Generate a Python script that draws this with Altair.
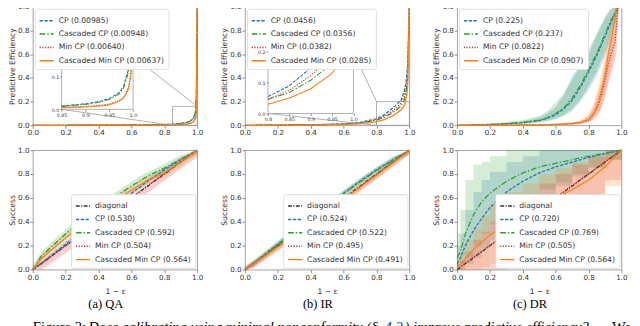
import altair as alt
import pandas as pd

# ---------------- data ----------------
KEYS4 = ["cp", "ccp", "min", "cmin"]
KEYS5 = ["diag", "cp", "ccp", "min", "cmin"]

QA_TOP_LABELS = {"cp": "CP (0.00985)", "ccp": "Cascaded CP (0.00948)",
                 "min": "Min CP (0.00640)", "cmin": "Cascaded Min CP (0.00637)"}
IR_TOP_LABELS = {"cp": "CP (0.0456)", "ccp": "Cascaded CP (0.0356)",
                 "min": "Min CP (0.0382)", "cmin": "Cascaded Min CP (0.0285)"}
DR_TOP_LABELS = {"cp": "CP (0.225)", "ccp": "Cascaded CP (0.237)",
                 "min": "Min CP (0.0822)", "cmin": "Cascaded Min CP (0.0907)"}
QA_BOT_LABELS = {"diag": "diagonal", "cp": "CP (0.530)", "ccp": "Cascaded CP (0.592)",
                 "min": "Min CP (0.504)", "cmin": "Cascaded Min CP (0.564)"}
IR_BOT_LABELS = {"diag": "diagonal", "cp": "CP (0.524)", "ccp": "Cascaded CP (0.522)",
                 "min": "Min CP (0.495)", "cmin": "Cascaded Min CP (0.491)"}
DR_BOT_LABELS = {"diag": "diagonal", "cp": "CP (0.720)", "ccp": "Cascaded CP (0.769)",
                 "min": "Min CP (0.505)", "cmin": "Cascaded Min CP (0.564)"}

# (a) QA, predictive efficiency
QA_TOP_X = [0.0, 0.3, 0.6, 0.8, 0.85, 0.9, 0.93, 0.95, 0.97, 0.98, 0.99, 0.995, 1.0]
QA_TOP_CP = [0.0, 0.001, 0.003, 0.006, 0.010, 0.017, 0.024, 0.033, 0.050, 0.070, 0.120, 0.25, 1.0]
QA_TOP_CCP = [0.0, 0.001, 0.003, 0.005, 0.009, 0.015, 0.022, 0.030, 0.046, 0.065, 0.112, 0.24, 1.0]
QA_TOP_MIN = [0.0, 0.001, 0.002, 0.004, 0.006, 0.009, 0.012, 0.016, 0.026, 0.037, 0.065, 0.11, 1.0]
QA_TOP_CMIN = [0.0, 0.001, 0.002, 0.003, 0.005, 0.007, 0.010, 0.013, 0.024, 0.034, 0.060, 0.10, 1.0]

# (b) IR, predictive efficiency
IR_TOP_X = [0.0, 0.2, 0.4, 0.6, 0.7, 0.8, 0.85, 0.9, 0.93, 0.95, 0.97, 0.98, 0.99, 1.0]
IR_TOP_CP = [0.0, 0.002, 0.005, 0.012, 0.025, 0.055, 0.090, 0.148, 0.185, 0.215, 0.29, 0.37, 0.52, 1.0]
IR_TOP_CCP = [0.0, 0.002, 0.004, 0.009, 0.018, 0.046, 0.068, 0.108, 0.140, 0.165, 0.215, 0.27, 0.40, 1.0]
IR_TOP_MIN = [0.0, 0.002, 0.004, 0.010, 0.020, 0.046, 0.075, 0.123, 0.160, 0.190, 0.245, 0.31, 0.45, 1.0]
IR_TOP_CMIN = [0.0, 0.001, 0.003, 0.007, 0.013, 0.030, 0.050, 0.080, 0.110, 0.130, 0.170, 0.22, 0.33, 1.0]

# (c) DR, predictive efficiency
DR_TOP_CP_X = [0.0, 0.1, 0.2, 0.3, 0.4, 0.5, 0.55, 0.6, 0.65, 0.7, 0.75, 0.8, 0.85, 0.9, 0.93, 0.96, 0.98]
DR_TOP_CP = [0.0, 0.003, 0.007, 0.012, 0.022, 0.04, 0.06, 0.09, 0.14, 0.21, 0.32, 0.45, 0.59, 0.75, 0.85, 0.94, 1.0]
DR_TOP_CP_LO = [0.0, 0.001, 0.003, 0.006, 0.012, 0.022, 0.035, 0.05, 0.08, 0.12, 0.2, 0.3, 0.42, 0.58, 0.7, 0.85, 0.97]
DR_TOP_CP_HI = [0.0, 0.006, 0.012, 0.02, 0.035, 0.065, 0.1, 0.15, 0.26, 0.42, 0.5, 0.6, 0.76, 0.9, 0.97, 1.0, 1.0]
DR_TOP_CCP = [0.0, 0.004, 0.008, 0.014, 0.025, 0.045, 0.065, 0.10, 0.15, 0.23, 0.34, 0.47, 0.61, 0.77, 0.87, 0.95, 1.0]
DR_TOP_CCP_LO = [0.0, 0.002, 0.004, 0.008, 0.015, 0.028, 0.04, 0.06, 0.09, 0.14, 0.22, 0.33, 0.46, 0.62, 0.74, 0.88, 0.98]
DR_TOP_CCP_HI = [0.0, 0.008, 0.016, 0.028, 0.045, 0.08, 0.12, 0.19, 0.27, 0.38, 0.5, 0.64, 0.78, 0.92, 0.98, 1.0, 1.0]
DR_TOP_MIN_X = [0.0, 0.3, 0.5, 0.6, 0.7, 0.75, 0.8, 0.83, 0.86, 0.88, 0.9, 0.92, 0.94, 0.95, 0.96, 0.97, 0.98]
DR_TOP_MIN = [0.0, 0.002, 0.004, 0.007, 0.013, 0.022, 0.045, 0.09, 0.17, 0.26, 0.38, 0.52, 0.62, 0.66, 0.70, 0.85, 1.0]
DR_TOP_MIN_LO = [0.0, 0.001, 0.002, 0.004, 0.008, 0.012, 0.025, 0.05, 0.1, 0.15, 0.24, 0.35, 0.45, 0.5, 0.55, 0.62, 0.9]
DR_TOP_MIN_HI = [0.0, 0.004, 0.008, 0.012, 0.022, 0.035, 0.08, 0.15, 0.28, 0.38, 0.52, 0.65, 0.75, 0.8, 0.88, 1.0, 1.0]
DR_TOP_CMIN = [0.0, 0.002, 0.005, 0.008, 0.015, 0.025, 0.05, 0.10, 0.20, 0.30, 0.42, 0.60, 0.74, 0.82, 0.90, 1.0, 1.0]
DR_TOP_CMIN_LO = [0.0, 0.001, 0.002, 0.004, 0.008, 0.012, 0.025, 0.05, 0.1, 0.16, 0.25, 0.38, 0.5, 0.58, 0.68, 0.8, 0.95]
DR_TOP_CMIN_HI = [0.0, 0.004, 0.009, 0.014, 0.025, 0.04, 0.09, 0.18, 0.33, 0.45, 0.6, 0.76, 0.88, 0.95, 1.0, 1.0, 1.0]

# success curves
BOT_X = [0.0, 0.05, 0.1, 0.2, 0.3, 0.4, 0.5, 0.6, 0.7, 0.8, 0.9, 1.0]
DIAG_X = [0.0, 1.0]
DIAG_Y = [0.0, 1.0]
QA_BOT_CP = [0.0, 0.05, 0.105, 0.215, 0.325, 0.43, 0.535, 0.64, 0.74, 0.835, 0.92, 1.0]
QA_BOT_CCP = [0.0, 0.11, 0.175, 0.30, 0.41, 0.51, 0.61, 0.70, 0.785, 0.85, 0.925, 1.0]
QA_BOT_MIN = [0.0, 0.05, 0.10, 0.20, 0.30, 0.40, 0.505, 0.605, 0.705, 0.805, 0.905, 1.0]
QA_BOT_CMIN = [0.0, 0.09, 0.15, 0.265, 0.375, 0.475, 0.575, 0.665, 0.75, 0.81, 0.90, 1.0]
QA_BOT_BAND = {"cp": 0.02, "ccp": 0.035, "min": 0.04, "cmin": 0.035}

IR_BOT_CP = [0.0, 0.05, 0.105, 0.215, 0.32, 0.43, 0.535, 0.64, 0.74, 0.835, 0.92, 1.0]
IR_BOT_CCP = [0.0, 0.05, 0.10, 0.21, 0.32, 0.43, 0.53, 0.635, 0.735, 0.83, 0.915, 1.0]
IR_BOT_MIN = [0.0, 0.048, 0.097, 0.195, 0.293, 0.393, 0.493, 0.595, 0.695, 0.795, 0.897, 1.0]
IR_BOT_CMIN = [0.0, 0.047, 0.095, 0.19, 0.288, 0.387, 0.487, 0.588, 0.69, 0.79, 0.893, 1.0]
IR_BOT_BAND = {"cp": 0.025, "ccp": 0.025, "min": 0.025, "cmin": 0.03}

DR_BOT_X = [0.0, 0.02, 0.05, 0.1, 0.15, 0.2, 0.3, 0.4, 0.5, 0.6, 0.7, 0.8, 0.9, 1.0]
DR_BOT_CP = [0.05, 0.10, 0.20, 0.33, 0.43, 0.52, 0.65, 0.74, 0.81, 0.86, 0.90, 0.94, 0.97, 1.0]
DR_BOT_CP_LO = [0.0, 0.0, 0.05, 0.1, 0.18, 0.25, 0.4, 0.5, 0.6, 0.7, 0.78, 0.85, 0.92, 1.0]
DR_BOT_CP_HI = [0.2, 0.3, 0.5, 0.65, 0.75, 0.82, 0.9, 0.95, 1.0, 1.0, 1.0, 1.0, 1.0, 1.0]
DR_BOT_CCP = [0.10, 0.15, 0.30, 0.46, 0.57, 0.64, 0.74, 0.81, 0.86, 0.89, 0.92, 0.95, 0.975, 1.0]
DR_BOT_CCP_LO = [0.0, 0.05, 0.1, 0.2, 0.3, 0.38, 0.5, 0.6, 0.67, 0.73, 0.8, 0.86, 0.92, 1.0]
DR_BOT_CCP_HI = [0.3, 0.5, 0.75, 0.88, 0.9, 0.95, 1.0, 1.0, 1.0, 1.0, 1.0, 1.0, 1.0, 1.0]
DR_BOT_MIN = [0.0, 0.02, 0.055, 0.105, 0.155, 0.205, 0.305, 0.405, 0.505, 0.605, 0.705, 0.805, 0.905, 1.0]
DR_BOT_MIN_LO = [0.0, 0.0, 0.0, 0.0, 0.0, 0.0, 0.1, 0.2, 0.3, 0.4, 0.5, 0.62, 0.75, 1.0]
DR_BOT_MIN_HI = [0.05, 0.08, 0.15, 0.25, 0.32, 0.4, 0.5, 0.62, 0.72, 0.8, 0.88, 0.95, 1.0, 1.0]
DR_BOT_CMIN = [0.02, 0.04, 0.09, 0.17, 0.23, 0.29, 0.38, 0.45, 0.53, 0.60, 0.67, 0.75, 0.86, 1.0]
DR_BOT_CMIN_LO = [0.0, 0.0, 0.0, 0.0, 0.02, 0.05, 0.12, 0.2, 0.28, 0.35, 0.45, 0.55, 0.7, 1.0]
DR_BOT_CMIN_HI = [0.1, 0.15, 0.25, 0.35, 0.45, 0.55, 0.65, 0.72, 0.8, 0.85, 0.9, 0.95, 1.0, 1.0]

TICKS = [0.0, 0.2, 0.4, 0.6, 0.8, 1.0]
CAPTIONS = ["(a) QA", "(b) IR", "(c) DR"]
FIG_CAPTION = ["Figure 2:", "Does calibrating using minimal nonconformity (§", "4.2",
               ") improve predictive efficiency?", "We"]

# ---------------- style ----------------
COLORS = {"diag": "#333333", "cp": "#1f77b4", "ccp": "#2ca02c", "min": "#d62728", "cmin": "#ff7f0e"}
DASHES = {"diag": [4, 1.5, 1.2, 1.5], "cp": [3.5, 1.5], "ccp": [6, 2, 1.5, 2],
          "min": [1.2, 1.6], "cmin": [1, 0]}
W = 172
HT = 124
HB = 125
FONT = "DejaVu Sans"


def series_df(series, labels):
    rows = []
    for key, (xs, ys) in series.items():
        for xv, yv in zip(xs, ys):
            rows.append({"x": xv, "y": yv, "key": key, "label": labels[key]})
    return pd.DataFrame(rows)


def band_df(bands):
    rows = []
    for key, (xs, lo, hi) in bands.items():
        for xv, a, b in zip(xs, lo, hi):
            rows.append({"x": xv, "lo": a, "hi": b, "key": key})
    return pd.DataFrame(rows)


def main_axes(ytitle, xtitle=None):
    sx = alt.Scale(domain=[0, 1], nice=False, zero=False)
    sy = alt.Scale(domain=[0, 1], nice=False, zero=False)
    ax = alt.Axis(values=TICKS, format=".1f", grid=False, title=xtitle, labelFlush=False, titlePadding=7)
    ay = alt.Axis(values=TICKS, format=".1f", grid=False, title=ytitle, labelFlush=False)
    return sx, sy, ax, ay


def line_layer(df, keys, labels, sx, sy, ax, ay, legend_orient=None, width=1.3):
    dom = [labels[k] for k in keys]
    if legend_orient:
        leg = alt.Legend(orient=legend_orient, title=None)
    else:
        leg = None
    return alt.Chart(df).mark_line(strokeWidth=width).encode(
        x=alt.X("x:Q", scale=sx, axis=ax),
        y=alt.Y("y:Q", scale=sy, axis=ay),
        color=alt.Color("label:N", scale=alt.Scale(domain=dom, range=[COLORS[k] for k in keys]), legend=leg),
        strokeDash=alt.StrokeDash("label:N", scale=alt.Scale(domain=dom, range=[DASHES[k] for k in keys]), legend=leg),
    )


def band_layer(df, keys, sx, sy, ax, ay, opacity=0.22, interp="linear"):
    return alt.Chart(df).mark_area(opacity=opacity, interpolate=interp).encode(
        x=alt.X("x:Q", scale=sx, axis=ax),
        y=alt.Y("lo:Q", scale=sy, axis=ay, stack=None),
        y2="hi:Q",
        fill=alt.Fill("key:N", scale=alt.Scale(domain=keys, range=[COLORS[k] for k in keys]), legend=None),
    )


def inset_label_expr():
    return "round(datum.value*100)%10==0 ? format(datum.value,'.1f') : format(datum.value,'.2f')"


def top_with_inset(series, labels, xdom, ydom, xticks, yticks, frac, to_right_corner):
    # frac = (left, right, bottom, top) of the inset, as fractions of the plot area
    sx, sy, ax, ay = main_axes("Predictive Efficiency")
    df = series_df(series, labels)
    main_lines = line_layer(df, KEYS4, labels, sx, sy, ax, ay, legend_orient="top-left")
    zoom = pd.DataFrame({"x0": [xdom[0]], "x1": [xdom[1]], "y0": [ydom[0]], "y1": [ydom[1]]})
    zoom_rect = alt.Chart(zoom).mark_rect(fillOpacity=0, stroke="#999", strokeWidth=0.8).encode(
        x=alt.X("x0:Q", scale=sx, axis=ax), x2="x1:Q",
        y=alt.Y("y0:Q", scale=sy, axis=ay), y2="y1:Q")
    fl, fr, fb, ft = frac
    corner_x = xdom[1] if to_right_corner else xdom[0]
    conn = pd.DataFrame({"a": [fr, fl], "b": [ft, fb], "c": [corner_x, xdom[0]], "d": [ydom[1], ydom[0]]})
    conn_rules = alt.Chart(conn).mark_rule(color="#999", strokeWidth=0.8).encode(
        x=alt.X("a:Q", scale=sx, axis=ax), x2="c:Q",
        y=alt.Y("b:Q", scale=sy, axis=ay), y2="d:Q")
    main = alt.layer(main_lines, zoom_rect, conn_rules)

    isx = alt.Scale(domain=xdom, range=[W * fl, W * fr], nice=False, zero=False)
    isy = alt.Scale(domain=ydom, range=[HT * (1 - fb), HT * (1 - ft)], nice=False, zero=False, clamp=True)
    iax = alt.Axis(orient="bottom", offset=-HT * fb, values=xticks, labelExpr=inset_label_expr(),
                   grid=False, domain=False, tickSize=2, labelPadding=1, labelFontSize=5, title=None, zindex=2,
                   labelFlush=False, labelOverlap=False)
    iay = alt.Axis(orient="left", offset=-W * fl, values=yticks, format=".1f",
                   grid=False, domain=False, tickSize=2, labelPadding=1, labelFontSize=5, title=None, zindex=2,
                   labelFlush=False, labelOverlap=False)
    bg = pd.DataFrame({"x0": [xdom[0]], "x1": [xdom[1]], "y0": [ydom[0]], "y1": [ydom[1]]})
    inset_bg = alt.Chart(bg).mark_rect(fill="white", stroke="#999", strokeWidth=0.8).encode(
        x=alt.X("x0:Q", scale=isx, axis=iax), x2="x1:Q",
        y=alt.Y("y0:Q", scale=isy, axis=iay), y2="y1:Q")
    # keep the points inside the zoomed x range, up to the first one above the top
    rows = []
    for key, (xs, ys) in series.items():
        for xv, yv in zip(xs, ys):
            if xv >= xdom[0]:
                rows.append({"x": xv, "y": yv, "key": key, "label": labels[key]})
                if yv > ydom[1]:
                    break
    idf = pd.DataFrame(rows)
    inset_lines = line_layer(idf, KEYS4, labels, isx, isy, iax, iay, legend_orient=None, width=1.1)
    inset = alt.layer(inset_bg, inset_lines)
    return alt.layer(main, inset).resolve_scale(x="independent", y="independent").properties(width=W, height=HT)


def top_dr():
    sx, sy, ax, ay = main_axes("Predictive Efficiency")
    series = {"cp": (DR_TOP_CP_X, DR_TOP_CP), "ccp": (DR_TOP_CP_X, DR_TOP_CCP),
              "min": (DR_TOP_MIN_X, DR_TOP_MIN), "cmin": (DR_TOP_MIN_X, DR_TOP_CMIN)}
    bands = {"cp": (DR_TOP_CP_X, DR_TOP_CP_LO, DR_TOP_CP_HI), "ccp": (DR_TOP_CP_X, DR_TOP_CCP_LO, DR_TOP_CCP_HI),
             "min": (DR_TOP_MIN_X, DR_TOP_MIN_LO, DR_TOP_MIN_HI), "cmin": (DR_TOP_MIN_X, DR_TOP_CMIN_LO, DR_TOP_CMIN_HI)}
    b = band_layer(band_df(bands), KEYS4, sx, sy, ax, ay, opacity=0.22)
    lines = line_layer(series_df(series, DR_TOP_LABELS), KEYS4, DR_TOP_LABELS, sx, sy, ax, ay, legend_orient="top-left")
    return alt.layer(b, lines).properties(width=W, height=HT)


def bottom(series, bands, labels, caption, interp="linear", opacity=0.22):
    sx, sy, ax, ay = main_axes("Success", "1 − ε")
    b = band_layer(band_df(bands), KEYS4, sx, sy, ax, ay, opacity=opacity, interp=interp)
    lines = line_layer(series_df(series, labels), KEYS5, labels, sx, sy, ax, ay, legend_orient="bottom-right")
    return alt.layer(b, lines).properties(
        width=W, height=HB,
        title=alt.TitleParams(caption, orient="bottom", anchor="middle", frame="bounds", font="Liberation Serif",
                              fontSize=13, fontWeight="normal", color="black", offset=4))


def sym_bands(xs, series, widths):
    out = {}
    for key, ys in series.items():
        w = widths[key]
        lo = [max(0.0, y - w * (1.5 if key == "min" else 1.0)) for y in ys]
        hi = [min(1.0, y + w * (0.3 if key == "min" else 1.0)) for y in ys]
        out[key] = (xs, lo, hi)
    return out


# ---------------- panels ----------------
qa_top = top_with_inset(
    {"cp": (QA_TOP_X, QA_TOP_CP), "ccp": (QA_TOP_X, QA_TOP_CCP),
     "min": (QA_TOP_X, QA_TOP_MIN), "cmin": (QA_TOP_X, QA_TOP_CMIN)},
    QA_TOP_LABELS, [0.85, 1.0], [0.0, 0.16], [0.85, 0.9, 0.95, 1.0], [0.0, 0.1],
    (0.175, 0.61, 0.135, 0.58), True)
ir_top = top_with_inset(
    {"cp": (IR_TOP_X, IR_TOP_CP), "ccp": (IR_TOP_X, IR_TOP_CCP),
     "min": (IR_TOP_X, IR_TOP_MIN), "cmin": (IR_TOP_X, IR_TOP_CMIN)},
    IR_TOP_LABELS, [0.8, 1.0], [0.0, 0.2], [0.8, 0.85, 0.9, 0.95, 1.0], [0.0, 0.1, 0.2],
    (0.14, 0.66, 0.10, 0.62), False)
dr_top = top_dr()

qa_series = {"diag": (DIAG_X, DIAG_Y), "cp": (BOT_X, QA_BOT_CP), "ccp": (BOT_X, QA_BOT_CCP),
             "min": (BOT_X, QA_BOT_MIN), "cmin": (BOT_X, QA_BOT_CMIN)}
qa_bot = bottom(qa_series,
                sym_bands(BOT_X, {"cp": QA_BOT_CP, "ccp": QA_BOT_CCP, "min": QA_BOT_MIN, "cmin": QA_BOT_CMIN}, QA_BOT_BAND),
                QA_BOT_LABELS, CAPTIONS[0])
ir_series = {"diag": (DIAG_X, DIAG_Y), "cp": (BOT_X, IR_BOT_CP), "ccp": (BOT_X, IR_BOT_CCP),
             "min": (BOT_X, IR_BOT_MIN), "cmin": (BOT_X, IR_BOT_CMIN)}
ir_bot = bottom(ir_series,
                sym_bands(BOT_X, {"cp": IR_BOT_CP, "ccp": IR_BOT_CCP, "min": IR_BOT_MIN, "cmin": IR_BOT_CMIN}, IR_BOT_BAND),
                IR_BOT_LABELS, CAPTIONS[1])
dr_series = {"diag": (DIAG_X, DIAG_Y), "cp": (DR_BOT_X, DR_BOT_CP), "ccp": (DR_BOT_X, DR_BOT_CCP),
             "min": (DR_BOT_X, DR_BOT_MIN), "cmin": (DR_BOT_X, DR_BOT_CMIN)}
dr_bands = {"cp": (DR_BOT_X, DR_BOT_CP_LO, DR_BOT_CP_HI), "ccp": (DR_BOT_X, DR_BOT_CCP_LO, DR_BOT_CCP_HI),
            "min": (DR_BOT_X, DR_BOT_MIN_LO, DR_BOT_MIN_HI), "cmin": (DR_BOT_X, DR_BOT_CMIN_LO, DR_BOT_CMIN_HI)}
dr_bot = bottom(dr_series, dr_bands, DR_BOT_LABELS, CAPTIONS[2], interp="step-after", opacity=0.2)

# figure caption line (justified like the source: pieces placed across the width)
CAP_FONT = dict(font="Liberation Serif", fontSize=15.3, align="left", baseline="middle")
CAP_PIECES = [(FIG_CAPTION[0], 0, "normal", "black"), (FIG_CAPTION[1], 58, "italic", "black"),
              (FIG_CAPTION[2], 368, "italic", "#1a3fb0"), (FIG_CAPTION[3], 389, "italic", "black"),
              (FIG_CAPTION[4], 606, "normal", "black")]
cap_layers = []
for txt, xpos, style, col in CAP_PIECES:
    cap_layers.append(alt.Chart(pd.DataFrame({"t": [txt]})).mark_text(
        fontStyle=style, color=col, **CAP_FONT).encode(text="t:N", x=alt.value(xpos), y=alt.value(3)))
caption = alt.layer(*cap_layers).properties(width=600, height=12, view=alt.ViewConfig(stroke=None))

RES = dict(x="independent", y="independent", color="independent", strokeDash="independent", fill="independent")
row1 = alt.hconcat(qa_top, ir_top, dr_top, spacing=17).resolve_scale(**RES)
row2 = alt.hconcat(qa_bot, ir_bot, dr_bot, spacing=17).resolve_scale(**RES)

chart = alt.vconcat(row1, row2, caption, spacing=9).resolve_scale(**RES).properties(
    padding={"left": 0, "top": -14, "right": 0, "bottom": 0}
).configure_view(
    stroke="#888", strokeWidth=0.8
).configure_axis(
    labelFont=FONT, titleFont=FONT, labelFontSize=7.5, titleFontSize=8, labelColor="#333", titleColor="#333",
    titleFontWeight="normal", tickColor="#888", tickSize=3, labelPadding=1, titlePadding=1.5, domain=False
).configure_legend(
    labelFont=FONT, labelFontSize=8, labelColor="#333", symbolType="stroke", symbolStrokeWidth=1.5,
    symbolSize=220, padding=4, rowPadding=1, fillColor="white", strokeColor="#ddd", cornerRadius=2,
    offset=2, labelLimit=200
)

chart.save("out.html", embed_options={"renderer": "svg", "actions": False})
